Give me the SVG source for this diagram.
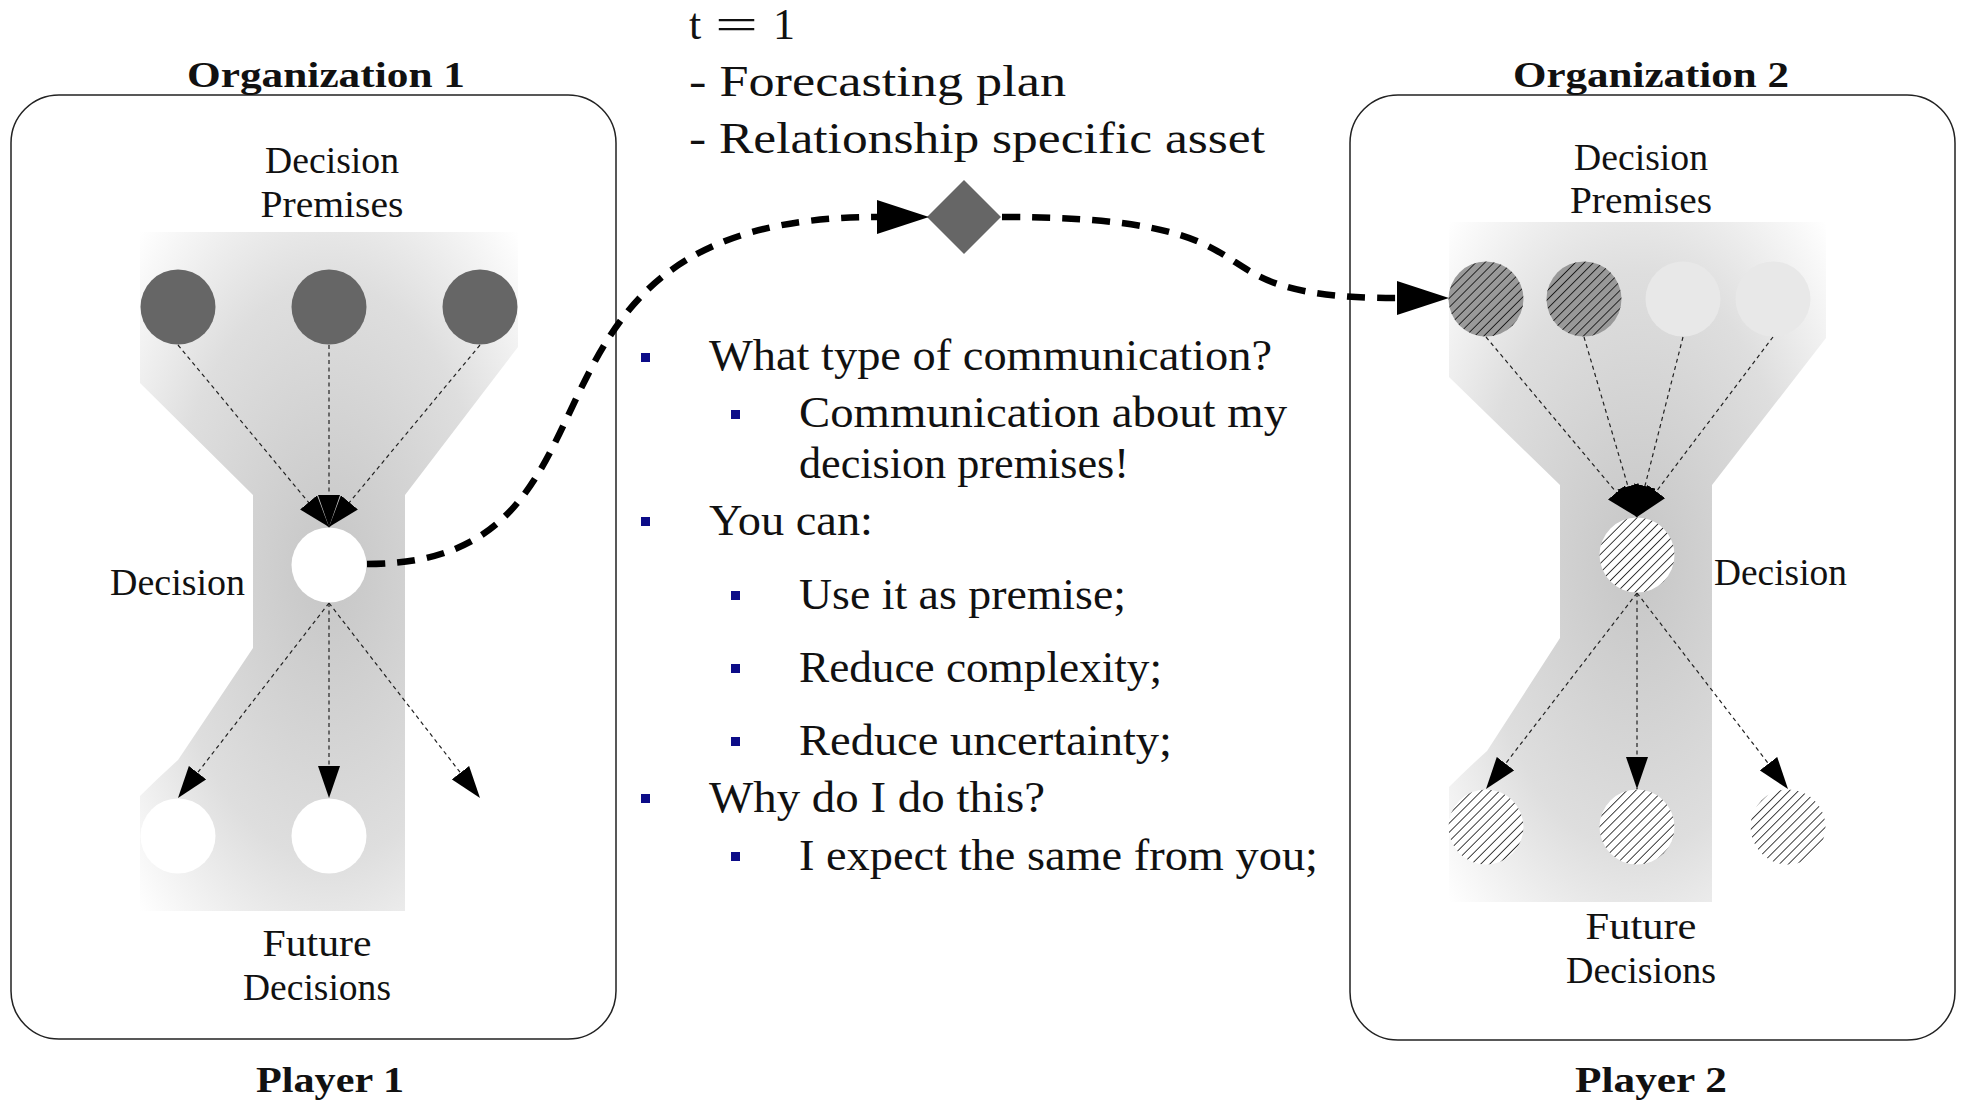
<svg xmlns="http://www.w3.org/2000/svg" width="1961" height="1101" viewBox="0 0 1961 1101">
<style>
  .box{fill:none;stroke:#222;stroke-width:1.5}
  .t{font-family:"Liberation Serif","Times New Roman",serif;fill:#111}
  .lbl{font-size:37px}
  .ttl{font-size:36px;font-weight:bold}
  .big{font-size:44px}
  .thin{fill:none;stroke:#222;stroke-width:1.2;stroke-dasharray:4 3.5}
  .thick{fill:none;stroke:#000;stroke-width:6.5;stroke-dasharray:18 12}
  .dark{fill:#666}
  .mid{fill:#999}
  .light{fill:#e8e8e8}
  .white{fill:#fff}
  .bul{fill:#0c0c88}
</style>
<defs>
  <radialGradient id="shade" cx="0.5" cy="0.5" r="0.7071">
    <stop offset="0" stop-color="#c6c6c6"/>
    <stop offset="0.6" stop-color="#dedede"/>
    <stop offset="1" stop-color="#ffffff"/>
  </radialGradient>
  <pattern id="hatch" width="6.4" height="6.4" patternUnits="userSpaceOnUse" patternTransform="rotate(45)">
    <line x1="0" y1="0" x2="0" y2="6.4" stroke="#000" stroke-width="1.5"/>
  </pattern>
  <marker id="ah" viewBox="0 0 32 22" refX="32" refY="11" markerWidth="32" markerHeight="22" markerUnits="userSpaceOnUse" orient="auto">
    <path d="M0,0 L32,11 L0,22 z" fill="#000"/>
  </marker>
  <marker id="ahBig" viewBox="0 0 52 34" refX="0" refY="17" markerWidth="52" markerHeight="34" markerUnits="userSpaceOnUse" orient="auto">
    <path d="M0,0 L52,17 L0,34 z" fill="#000"/>
  </marker>
</defs>
<rect width="1961" height="1101" fill="#fff"/>

<g id="org1">
  <rect class="box" x="11" y="95" width="605" height="944" rx="48"/>
  <path d="M140,232 L518,232 L518,347 L405,495 L405,911 L140,911 L140,796 Q158,778 178,760 L253,648 L253,495 L140,383 Z" fill="url(#shade)"/>
  <text class="t ttl" x="326" y="87" text-anchor="middle" textLength="278" lengthAdjust="spacingAndGlyphs">Organization 1</text>
  <text class="t ttl" x="330" y="1092" text-anchor="middle" textLength="148" lengthAdjust="spacingAndGlyphs">Player 1</text>
  <text class="t lbl" x="332" y="173" text-anchor="middle" textLength="134" lengthAdjust="spacingAndGlyphs">Decision</text>
  <text class="t lbl" x="332" y="217" text-anchor="middle" textLength="143" lengthAdjust="spacingAndGlyphs">Premises</text>
  <text class="t lbl" x="110" y="595" textLength="135" lengthAdjust="spacingAndGlyphs">Decision</text>
  <text class="t lbl" x="317" y="956" text-anchor="middle" textLength="109" lengthAdjust="spacingAndGlyphs">Future</text>
  <text class="t lbl" x="317" y="1000" text-anchor="middle" textLength="148" lengthAdjust="spacingAndGlyphs">Decisions</text>
</g>
<g id="o1-premise-1"><circle class="dark" cx="178" cy="307" r="37.5"/></g>
<g id="o1-premise-2"><circle class="dark" cx="329" cy="307" r="37.5"/></g>
<g id="o1-premise-3"><circle class="dark" cx="480" cy="307" r="37.5"/></g>
<g id="o1-decision"><circle class="white" cx="329" cy="565" r="37.5"/></g>
<g id="o1-future-1"><circle class="white" cx="178" cy="836" r="37.5"/></g>
<g id="o1-future-2"><circle class="white" cx="329" cy="836" r="37.5"/></g>

<g id="org2">
  <rect class="box" x="1350" y="95" width="605" height="945" rx="48"/>
  <path d="M1449,222 L1826,222 L1826,338 L1712,485 L1712,902 L1449,902 L1449,787 Q1467,769 1487,751 L1560,638 L1560,485 L1449,377 Z" fill="url(#shade)"/>
  <text class="t ttl" x="1651" y="87" text-anchor="middle" textLength="276" lengthAdjust="spacingAndGlyphs">Organization 2</text>
  <text class="t ttl" x="1651" y="1092" text-anchor="middle" textLength="152" lengthAdjust="spacingAndGlyphs">Player 2</text>
  <text class="t lbl" x="1641" y="170" text-anchor="middle" textLength="134" lengthAdjust="spacingAndGlyphs">Decision</text>
  <text class="t lbl" x="1641" y="213" text-anchor="middle" textLength="142" lengthAdjust="spacingAndGlyphs">Premises</text>
  <text class="t lbl" x="1714" y="585" textLength="133" lengthAdjust="spacingAndGlyphs">Decision</text>
  <text class="t lbl" x="1641" y="939" text-anchor="middle" textLength="111" lengthAdjust="spacingAndGlyphs">Future</text>
  <text class="t lbl" x="1641" y="983" text-anchor="middle" textLength="150" lengthAdjust="spacingAndGlyphs">Decisions</text>
</g>
<g id="o2-premise-1"><circle class="mid" cx="1486" cy="299" r="37.5"/><circle cx="1486" cy="299" r="37.5" fill="url(#hatch)"/></g>
<g id="o2-premise-2"><circle class="mid" cx="1584" cy="299" r="37.5"/><circle cx="1584" cy="299" r="37.5" fill="url(#hatch)"/></g>
<g id="o2-premise-3"><circle class="light" cx="1683" cy="299" r="37.5"/></g>
<g id="o2-premise-4"><circle class="light" cx="1773" cy="299" r="37.5"/></g>
<g id="o2-decision"><circle class="white" cx="1637" cy="555" r="37.5"/><circle cx="1637" cy="555" r="37.5" fill="url(#hatch)"/></g>
<g id="o2-future-1"><circle class="white" cx="1486" cy="827" r="37.5"/><circle cx="1486" cy="827" r="37.5" fill="url(#hatch)"/></g>
<g id="o2-future-2"><circle class="white" cx="1637" cy="827" r="37.5"/><circle cx="1637" cy="827" r="37.5" fill="url(#hatch)"/></g>
<g id="o2-future-3"><circle class="white" cx="1788" cy="827" r="37.5"/><circle cx="1788" cy="827" r="37.5" fill="url(#hatch)"/></g>

<g id="asset">
  <polygon points="927,217 964,180 1001,217 964,254" fill="#666"/>
</g>

<g id="connectors">
  <line class="thin" x1="178" y1="345" x2="329" y2="527" marker-end="url(#ah)"/>
  <line class="thin" x1="480" y1="345" x2="329" y2="527" marker-end="url(#ah)"/>
  <line class="thin" x1="329" y1="345" x2="329" y2="527" marker-end="url(#ah)"/>
  <line class="thin" x1="329" y1="603" x2="178" y2="798" marker-end="url(#ah)"/>
  <line class="thin" x1="329" y1="603" x2="329" y2="798" marker-end="url(#ah)"/>
  <line class="thin" x1="329" y1="603" x2="480" y2="798" marker-end="url(#ah)"/>

  <line class="thin" x1="1486" y1="337" x2="1637" y2="517" marker-end="url(#ah)"/>
  <line class="thin" x1="1773" y1="337" x2="1637" y2="517" marker-end="url(#ah)"/>
  <line class="thin" x1="1584" y1="337" x2="1637" y2="517" marker-end="url(#ah)"/>
  <line class="thin" x1="1683" y1="337" x2="1637" y2="517" marker-end="url(#ah)"/>
  <line class="thin" x1="1637" y1="593" x2="1486" y2="789" marker-end="url(#ah)"/>
  <line class="thin" x1="1637" y1="593" x2="1637" y2="789" marker-end="url(#ah)"/>
  <line class="thin" x1="1637" y1="593" x2="1788" y2="789" marker-end="url(#ah)"/>

  <path class="thick" d="M367,564 C653,564 479,217 877,217" marker-end="url(#ahBig)"/>
  <path class="thick" d="M1002,217 C1307,217 1168,298 1397,298" marker-end="url(#ahBig)"/>
</g>

<g id="t1-label">
  <text class="t big" x="689" y="39">t</text>
  <text class="t big" x="715" y="39" textLength="43" lengthAdjust="spacingAndGlyphs">=</text>
  <text class="t big" x="773" y="39">1</text>
  <text class="t big" x="689" y="96" textLength="377" lengthAdjust="spacingAndGlyphs">- Forecasting plan</text>
  <text class="t big" x="689" y="153" textLength="576" lengthAdjust="spacingAndGlyphs">- Relationship specific asset</text>
</g>

<g id="bullets">
  <rect class="bul" x="641" y="353" width="9" height="9"/>
  <rect class="bul" x="731" y="410" width="9" height="9"/>
  <rect class="bul" x="641" y="517" width="9" height="9"/>
  <rect class="bul" x="731" y="591" width="9" height="9"/>
  <rect class="bul" x="731" y="664" width="9" height="9"/>
  <rect class="bul" x="731" y="737" width="9" height="9"/>
  <rect class="bul" x="641" y="794" width="9" height="9"/>
  <rect class="bul" x="731" y="852" width="9" height="9"/>
  <text class="t big" x="709" y="370" textLength="563" lengthAdjust="spacingAndGlyphs">What type of communication?</text>
  <text class="t big" x="799" y="427" textLength="488" lengthAdjust="spacingAndGlyphs">Communication about my</text>
  <text class="t big" x="799" y="478" textLength="330" lengthAdjust="spacingAndGlyphs">decision premises!</text>
  <text class="t big" x="709" y="535" textLength="164" lengthAdjust="spacingAndGlyphs">You can:</text>
  <text class="t big" x="799" y="609" textLength="327" lengthAdjust="spacingAndGlyphs">Use it as premise;</text>
  <text class="t big" x="799" y="682" textLength="363" lengthAdjust="spacingAndGlyphs">Reduce complexity;</text>
  <text class="t big" x="799" y="755" textLength="373" lengthAdjust="spacingAndGlyphs">Reduce uncertainty;</text>
  <text class="t big" x="709" y="812" textLength="336" lengthAdjust="spacingAndGlyphs">Why do I do this?</text>
  <text class="t big" x="799" y="870" textLength="519" lengthAdjust="spacingAndGlyphs">I expect the same from you;</text>
</g>
</svg>
